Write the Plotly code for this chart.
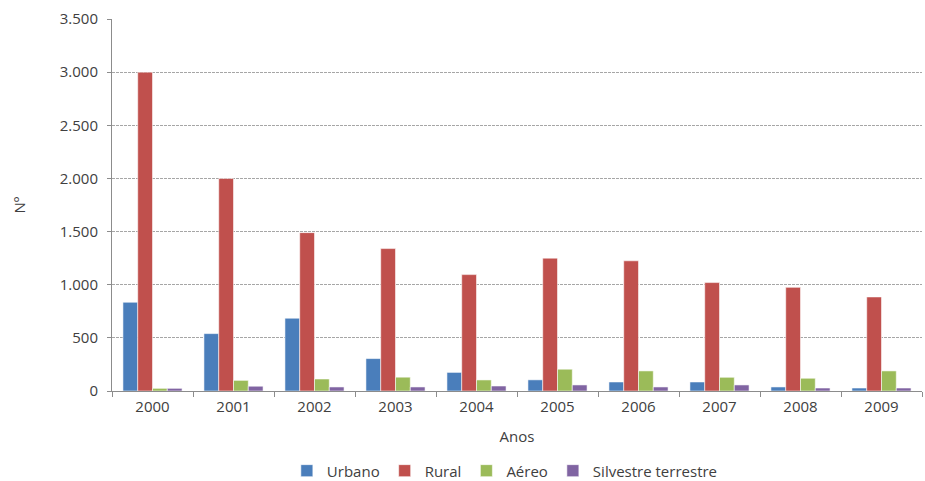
import plotly.graph_objects as go

anos = ["2000", "2001", "2002", "2003", "2004", "2005", "2006", "2007", "2008", "2009"]
urbano = [835, 540, 685, 305, 175, 105, 85, 85, 38, 28]
rural = [3000, 2000, 1490, 1340, 1095, 1250, 1225, 1020, 975, 885]
aereo = [25, 100, 113, 130, 104, 205, 189, 129, 120, 189]
silvestre = [25, 45, 38, 38, 47, 57, 38, 57, 28, 28]

series = [
    ("Urbano", urbano, "#4A7EBB"),
    ("Rural", rural, "#C0504D"),
    ("Aéreo", aereo, "#9BBB59"),
    ("Silvestre terrestre", silvestre, "#8064A2"),
]

fig = go.Figure()
for name, vals, color in series:
    fig.add_trace(go.Bar(
        x=anos, y=vals, name=name,
        marker=dict(color=color, line=dict(color="rgba(255,255,255,0.55)", width=1)),
    ))

axis_font = dict(family="Open Sans, Noto Sans, sans-serif", size=15, color="#404040")

fig.update_layout(
    width=925, height=481,
    margin=dict(l=112, r=3, t=19, b=90),
    paper_bgcolor="white", plot_bgcolor="white",
    barmode="group", bargap=0.27, bargroupgap=0,
    separators=",.",
    font=axis_font,
    showlegend=True,
    legend=dict(
        orientation="h", x=0.485, xanchor="center",
        yref="container", y=0.021, yanchor="middle",
        font=axis_font,
        itemwidth=30, tracegroupgap=0,
    ),
    xaxis=dict(
        type="category",
        showline=True, linecolor="#8c8c8c", linewidth=1,
        ticks="outside", tickson="boundaries", ticklen=5, tickcolor="#8c8c8c",
        showgrid=False,
        title=dict(text="Anos", font=axis_font, standoff=16),
        tickfont=axis_font,
        ticklabelstandoff=2,
        automargin=False,
    ),
    yaxis=dict(
        range=[0, 3500], dtick=500, tickformat=",d",
        showline=True, linecolor="#8c8c8c", linewidth=1,
        ticks="outside", ticklen=4, tickcolor="#8c8c8c",
        showgrid=True, gridcolor="#a6a6a6", griddash="3px,1px", gridwidth=1,
        zeroline=False,
        title=dict(text="Nº", font=axis_font, standoff=30),
        tickfont=axis_font,
        ticklabelstandoff=6,
        automargin=False,
    ),
)

fig.write_html("out.html")
